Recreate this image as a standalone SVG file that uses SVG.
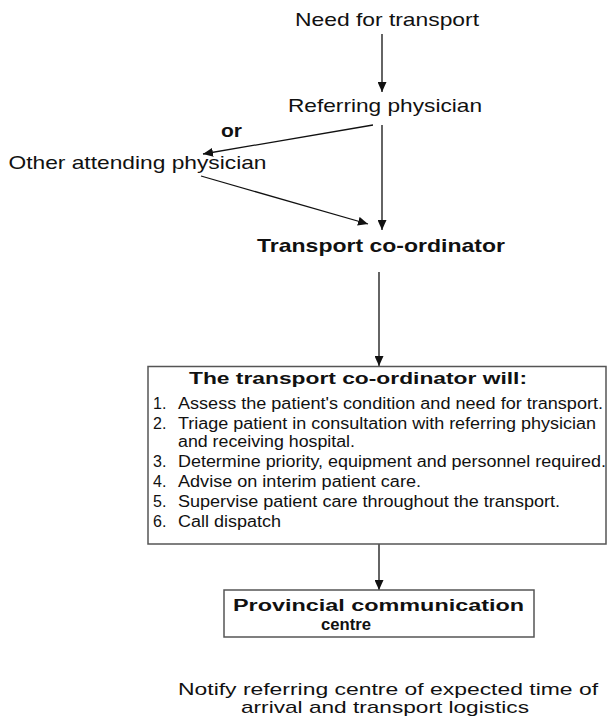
<svg xmlns="http://www.w3.org/2000/svg" width="607" height="718" viewBox="0 0 607 718">
  <style>
    text { font-family: "Liberation Sans", Arial, Helvetica, sans-serif; fill: #111; }
    .lbl { font-size: 18.5px; }
    .bold { font-weight: bold; }
    .item { font-size: 16px; }
    .note { font-size: 17px; }
    .edge { stroke: #111; stroke-width: 1.3; fill: none; marker-end: url(#arrow); }
    .box { fill: #fff; stroke: #555; stroke-width: 1.5; }
  </style>
  <defs>
    <marker id="arrow" markerUnits="userSpaceOnUse" markerWidth="10" markerHeight="9" refX="10" refY="4.5" orient="auto">
      <path d="M0,0 L10,4.5 L0,9 z" fill="#111"/>
    </marker>
  </defs>
  <rect width="607" height="718" fill="#fff"/>

  <!-- connectors -->
  <g id="connectors">
    <line class="edge" x1="382" y1="34" x2="382" y2="92"/>
    <line class="edge" x1="382" y1="125" x2="382" y2="230"/>
    <line class="edge" x1="373" y1="125" x2="203" y2="154"/>
    <line class="edge" x1="201" y1="176" x2="368" y2="224"/>
    <line class="edge" x1="379" y1="272" x2="379" y2="366"/>
    <line class="edge" x1="379" y1="544" x2="379" y2="590"/>
  </g>

  <g id="need">
    <text class="lbl" x="295" y="26" textLength="184" lengthAdjust="spacingAndGlyphs">Need for transport</text>
  </g>
  <g id="referring">
    <text class="lbl" x="288" y="112" textLength="194" lengthAdjust="spacingAndGlyphs">Referring physician</text>
  </g>
  <g id="or-label">
    <text class="lbl bold" x="221" y="137" textLength="21" lengthAdjust="spacingAndGlyphs">or</text>
  </g>
  <g id="other">
    <text class="lbl" x="8.5" y="169" textLength="258" lengthAdjust="spacingAndGlyphs">Other attending physician</text>
  </g>
  <g id="coordinator">
    <text class="bold" font-size="19" x="257" y="252" textLength="248" lengthAdjust="spacingAndGlyphs">Transport co-ordinator</text>
  </g>

  <g id="duties">
    <rect class="box" x="148" y="366.5" width="458" height="177.5"/>
    <text class="bold" font-size="16.5" x="189" y="384" textLength="338" lengthAdjust="spacingAndGlyphs">The transport co-ordinator will:</text>
    <g class="item">
      <text x="153" y="409">1.</text>
      <text x="178" y="409" textLength="425" lengthAdjust="spacingAndGlyphs">Assess the patient's condition and need for transport.</text>
      <text x="153" y="429">2.</text>
      <text x="178" y="429" textLength="418" lengthAdjust="spacingAndGlyphs">Triage patient in consultation with referring physician</text>
      <text x="178" y="447" textLength="177" lengthAdjust="spacingAndGlyphs">and receiving hospital.</text>
      <text x="153" y="467">3.</text>
      <text x="178" y="467" textLength="428" lengthAdjust="spacingAndGlyphs">Determine priority, equipment and personnel required.</text>
      <text x="153" y="487">4.</text>
      <text x="178" y="487" textLength="243" lengthAdjust="spacingAndGlyphs">Advise on interim patient care.</text>
      <text x="153" y="507">5.</text>
      <text x="178" y="507" textLength="382" lengthAdjust="spacingAndGlyphs">Supervise patient care throughout the transport.</text>
      <text x="153" y="527">6.</text>
      <text x="178" y="527" textLength="103" lengthAdjust="spacingAndGlyphs">Call dispatch</text>
    </g>
  </g>

  <g id="provincial">
    <rect class="box" x="224" y="590" width="310" height="47"/>
    <text class="bold" font-size="16" x="233" y="611" textLength="291" lengthAdjust="spacingAndGlyphs">Provincial communication</text>
    <text class="bold" font-size="16" x="321" y="630" textLength="50" lengthAdjust="spacingAndGlyphs">centre</text>
  </g>

  <g id="notify">
    <text class="note" x="178" y="695" textLength="420" lengthAdjust="spacingAndGlyphs">Notify referring centre of expected time of</text>
    <text class="note" x="241" y="713" textLength="288" lengthAdjust="spacingAndGlyphs">arrival and transport logistics</text>
  </g>
</svg>
